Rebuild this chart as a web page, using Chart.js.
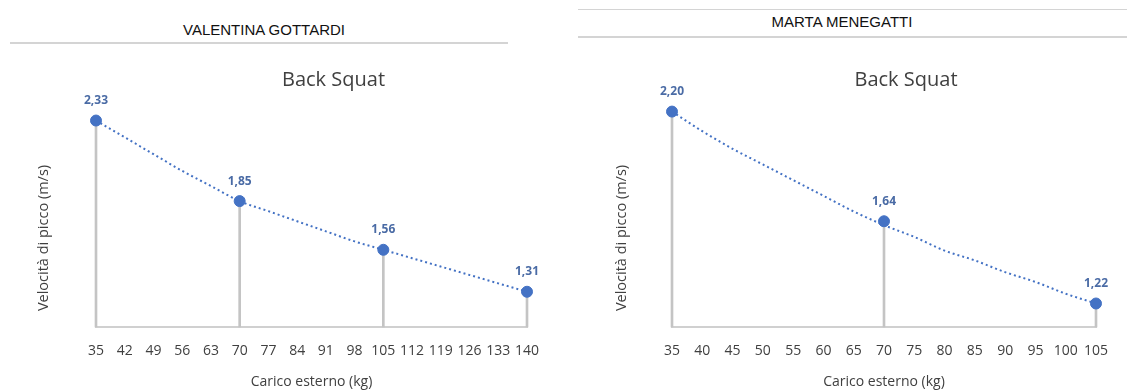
<!DOCTYPE html>
<html lang="it">
  <head>
    <meta charset="UTF-8" />
    <title>Back Squat</title>
    <script src="https://cdn.jsdelivr.net/npm/chart.js@4.4.1/dist/chart.umd.min.js"></script>
    <style>
      body { margin: 0; background: #fff; width: 1127px; height: 391px; position: relative; overflow: hidden; font-family: "Liberation Sans", Arial, sans-serif; }
      .name { position: absolute; font-size: 15px; color: #111; text-align: center; }
      .rule { position: absolute; height: 0; border-top: 2px solid #d4d4d4; }
      .box { position: absolute; top: 0; height: 391px; }
    </style>
  </head>
  <body>
    <div class="name" style="left: 10px; width: 508px; top: 21px">VALENTINA GOTTARDI</div>
    <div class="rule" style="left: 10px; width: 498px; top: 42px"></div>
    <div class="rule" style="left: 578px; width: 549px; top: 9px; border-top-width: 1px"></div>
    <div class="name" style="left: 578px; width: 528px; top: 13px">MARTA MENEGATTI</div>
    <div class="rule" style="left: 578px; width: 549px; top: 36px"></div>

    <div class="box" style="left: 0; width: 570px"><canvas id="chartLeft"></canvas></div>
    <div class="box" style="left: 570px; width: 557px"><canvas id="chartRight"></canvas></div>

    <script>
      // Valentina Gottardi
      const loadsA = [35, 70, 105, 140];
      const speedA = [2.33, 1.85, 1.56, 1.31];
      const trendLoadsA = [35, 42, 49, 56, 63, 70, 77, 84, 91, 98, 105, 112, 119, 126, 133, 140];
      const trendA = [2.33, 2.23, 2.13, 2.03, 1.94, 1.85, 1.79, 1.73, 1.67, 1.61, 1.56, 1.51, 1.46, 1.41, 1.36, 1.31];

      // Marta Menegatti
      const loadsB = [35, 70, 105];
      const speedB = [2.2, 1.64, 1.22];
      const trendLoadsB = [35, 40, 45, 50, 55, 60, 65, 70, 75, 80, 85, 90, 95, 100, 105];
      const trendB = [2.2, 2.1, 2.01, 1.93, 1.85, 1.77, 1.69, 1.62, 1.56, 1.49, 1.44, 1.38, 1.33, 1.27, 1.22];

      const yMin = 1.1;
      const blue = "#4472C4";
      const labelFont = '"Open Sans", "Noto Sans", sans-serif';

      // draws the value labels, the plot title and the rotated y title
      const extras = {
        id: "extras",
        afterDatasetsDraw(chart, args, opts) {
          const ctx = chart.ctx;
          const area = chart.chartArea;
          ctx.save();
          const meta = chart.getDatasetMeta(2);
          ctx.fillStyle = "#4A6BA5";
          ctx.font = "bold 12px " + labelFont;
          ctx.textAlign = "center";
          ctx.textBaseline = "middle";
          meta.data.forEach(function (pt, i) {
            const v = chart.data.datasets[2].data[i].y;
            ctx.fillText(v.toFixed(2).replace(".", ","), pt.x, pt.y - 20);
          });

          ctx.fillStyle = "#404040";
          ctx.font = "20px " + labelFont;
          ctx.fillText(opts.title, (area.left + area.right) / 2 + opts.titleShift, 80);

          ctx.fillStyle = "#404040";
          ctx.font = "14.5px " + labelFont;
          ctx.translate(opts.yTitleX, 238);
          ctx.rotate(-Math.PI / 2);
          ctx.fillText("Velocità di picco (m/s)", 0, 0);
          ctx.restore();
        },
      };

      function makeChart(el, loads, speed, trendLoads, trend, xMax, step, yMax, pad, yTitleX, titleShift) {
        return new Chart(document.getElementById(el), {
          data: {
            datasets: [
              {
                type: "bar",
                data: loads.map(function (x, i) { return { x: x, y: speed[i] }; }),
                backgroundColor: "#C4C4C4",
                barThickness: 2,
                base: yMin,
                clip: false,
                order: 3,
              },
              {
                type: "line",
                data: trendLoads.map(function (x, i) { return { x: x, y: trend[i] }; }),
                borderColor: blue,
                borderWidth: 2,
                borderDash: [2, 3],
                pointRadius: 0,
                cubicInterpolationMode: "monotone",
                clip: false,
                order: 2,
              },
              {
                type: "scatter",
                data: loads.map(function (x, i) { return { x: x, y: speed[i] }; }),
                backgroundColor: blue,
                borderColor: blue,
                pointRadius: 5.5,
                clip: false,
                order: 1,
              },
            ],
          },
          options: {
            responsive: true,
            maintainAspectRatio: false,
            animation: false,
            layout: { padding: pad },
            plugins: {
              legend: { display: false },
              tooltip: { enabled: false },
              extras: { title: "Back Squat", yTitleX: yTitleX, titleShift: titleShift },
            },
            scales: {
              x: {
                type: "linear",
                min: 35,
                max: xMax,
                offset: false,
                grid: { display: false, drawTicks: false },
                border: { color: "#D0D0D0", width: 2 },
                ticks: { stepSize: step, autoSkip: false, maxRotation: 0, padding: 16, color: "#404040", font: { family: labelFont, size: 14 } },
                title: { display: true, text: "Carico esterno (kg)", color: "#404040", padding: { top: 0, bottom: 1 }, font: { family: labelFont, size: 14 } },
                afterFit: function (scale) { scale.height = 64; },
              },
              y: { display: false, min: yMin, max: yMax },
            },
          },
          plugins: [extras],
        });
      }

      makeChart("chartLeft", loadsA, speedA, trendLoadsA, trendA, 140, 7, 2.5, { top: 92, left: 96, right: 43, bottom: 0 }, 44, 22);
      makeChart("chartRight", loadsB, speedB, trendLoadsB, trendB, 105, 5, 2.3, { top: 92, left: 102, right: 31, bottom: 0 }, 52, 22);
    </script>
  </body>
</html>
